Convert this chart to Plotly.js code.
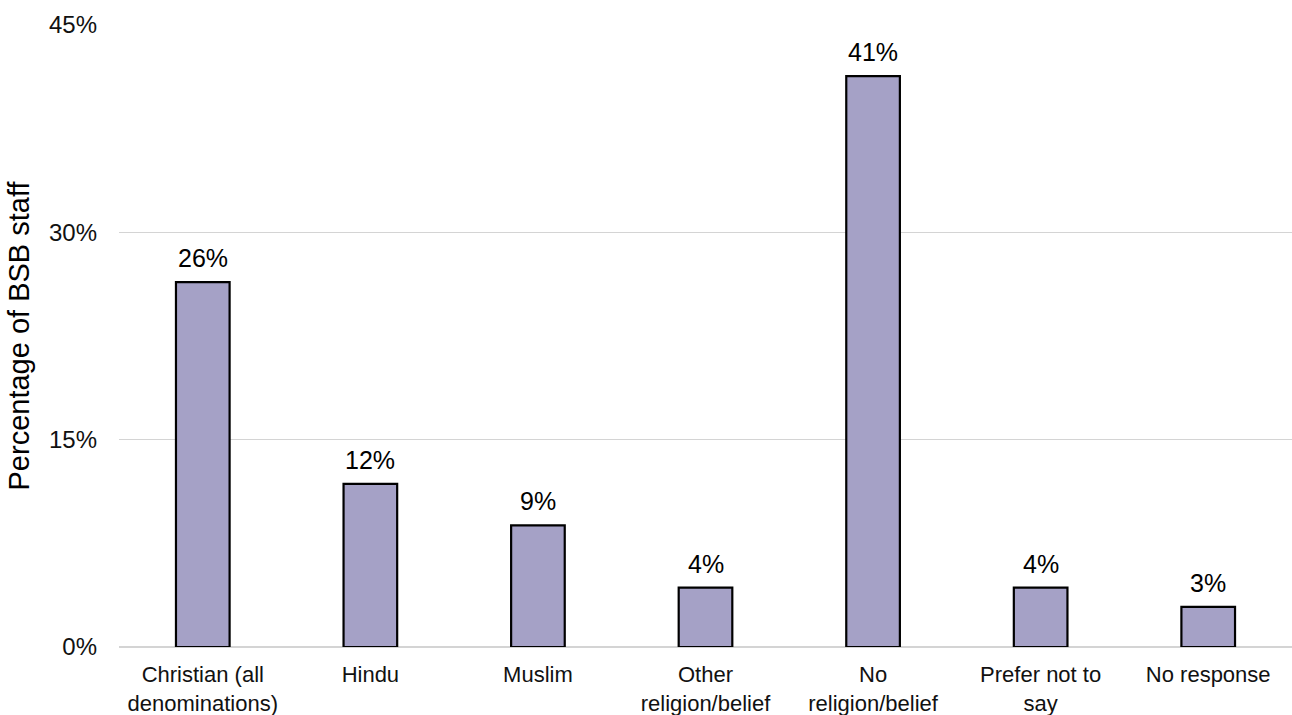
<!DOCTYPE html>
<html>
<head>
<meta charset="utf-8">
<script src="https://cdn.plot.ly/plotly-3.0.1.min.js"></script>
<style>html,body{margin:0;padding:0;background:#fff;}#chart{width:1292px;height:715px;}</style>
</head>
<body>
<div id="chart"></div>
<script>
const categories = ["Christian (all<br>denominations)", "Hindu", "Muslim", "Other<br>religion/belief", "No<br>religion/belief", "Prefer not to<br>say", "No response"];
const values = [26.4, 11.8, 8.8, 4.3, 41.3, 4.3, 2.9];
const labels = ["26%", "12%", "9%", "4%", "41%", "4%", "3%"];
const tickVals = [0, 15, 30, 45];
const tickText = ["0%", "15%", "30%", "45%"];

const font = "Arial, 'Liberation Sans', sans-serif";

const trace = {
  type: "bar",
  x: categories,
  y: values,
  width: 0.32,
  marker: {color: "#A5A1C6", line: {color: "#000000", width: 2.2}},
  hoverinfo: "none"
};

const annotations = categories.map((c, i) => ({
  x: c, y: values[i], xref: "x", yref: "y",
  text: labels[i], showarrow: false, yanchor: "bottom", yshift: 8,
  font: {family: font, size: 25, color: "#000"}
}));

const layout = {
  width: 1292, height: 715,
  margin: {l: 119, r: 0, t: 25, b: 68},
  paper_bgcolor: "#fff", plot_bgcolor: "#fff",
  showlegend: false,
  font: {family: font, color: "#000"},
  xaxis: {
    type: "category",
    showgrid: false, showline: false, zeroline: false,
    ticks: "", tickfont: {family: font, size: 22, color: "#111"},
    ticklabelstandoff: 12
  },
  yaxis: {
    range: [0, 45],
    tickvals: tickVals, ticktext: tickText,
    showgrid: true, gridcolor: "#d4d4d4", gridwidth: 1.5,
    zeroline: true, zerolinecolor: "#d4d4d4", zerolinewidth: 1.5,
    showline: false, ticks: "",
    tickfont: {family: font, size: 24, color: "#111"},
    ticklabelstandoff: 21,
    title: {text: "Percentage of BSB staff", font: {family: font, size: 29, color: "#000"}, standoff: 10}
  },
  annotations: annotations,
  bargap: 0.68
};

Plotly.newPlot("chart", [trace], layout, {displayModeBar: false, staticPlot: true});
</script>
</body>
</html>
